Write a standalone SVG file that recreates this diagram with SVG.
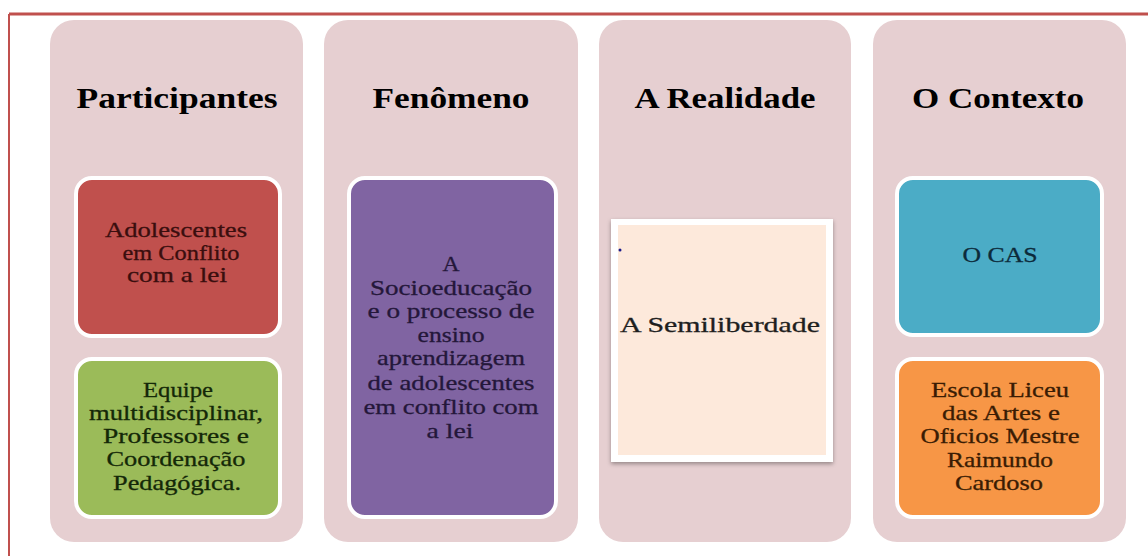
<svg xmlns="http://www.w3.org/2000/svg" width="1148" height="556" viewBox="0 0 1148 556">
<defs>
<style>
.col{fill:#e6cfd1;}
.box{stroke:#ffffff;stroke-width:4;}
.ttl{font-family:"Liberation Serif",serif;font-weight:bold;font-size:30px;fill:#000;text-anchor:middle;}
.txt{font-family:"Liberation Serif",serif;font-size:21px;text-anchor:middle;stroke-width:0.3;}
</style>
<filter id="sh" x="-10%" y="-10%" width="120%" height="125%">
<feDropShadow dx="0" dy="2" stdDeviation="2" flood-color="#000" flood-opacity="0.35"/>
</filter>
</defs>
<rect x="0" y="0" width="1148" height="556" fill="#ffffff"/>
<g id="frame">
<line x1="9" y1="14" x2="1148" y2="14" stroke="#c0504d" stroke-width="3"/>
<line x1="9" y1="14" x2="9" y2="556" stroke="#c0504d" stroke-width="2"/>
</g>
<g id="participantes">
<rect class="col" x="50" y="20" width="253" height="522" rx="24"/>
<text class="ttl" x="177" y="108" textLength="201" lengthAdjust="spacingAndGlyphs">Participantes</text>
<g id="adolescentes">
<rect class="box" x="76" y="178" width="204" height="158" rx="16" fill="#c0504d"/>
<g class="txt" fill="#3a0e0e" stroke="#3a0e0e">
<text x="176" y="237" textLength="142" lengthAdjust="spacingAndGlyphs">Adolescentes</text>
<text x="181" y="260" textLength="117" lengthAdjust="spacingAndGlyphs">em Conflito</text>
<text x="177" y="282" textLength="100" lengthAdjust="spacingAndGlyphs">com a lei</text>
</g>
</g>
<g id="equipe">
<rect class="box" x="76" y="359" width="204" height="158" rx="16" fill="#9bbb59"/>
<g class="txt" fill="#142808" stroke="#142808">
<text x="178" y="397" textLength="70" lengthAdjust="spacingAndGlyphs">Equipe</text>
<text x="176" y="420" textLength="174" lengthAdjust="spacingAndGlyphs">multidisciplinar,</text>
<text x="176" y="443" textLength="146" lengthAdjust="spacingAndGlyphs">Professores e</text>
<text x="176" y="466" textLength="139" lengthAdjust="spacingAndGlyphs">Coordenação</text>
<text x="177" y="490" textLength="128" lengthAdjust="spacingAndGlyphs">Pedagógica.</text>
</g>
</g>
</g>
<g id="fenomeno">
<rect class="col" x="324" y="20" width="254" height="522" rx="24"/>
<text class="ttl" x="451" y="108" textLength="157" lengthAdjust="spacingAndGlyphs">Fenômeno</text>
<g id="socioeducacao">
<rect class="box" x="349" y="178" width="207" height="339" rx="16" fill="#8064a2"/>
<g class="txt" fill="#24173a" stroke="#24173a">
<text x="451" y="271" textLength="17" lengthAdjust="spacingAndGlyphs">A</text>
<text x="451" y="295" textLength="162" lengthAdjust="spacingAndGlyphs">Socioeducação</text>
<text x="451" y="318" textLength="167" lengthAdjust="spacingAndGlyphs">e o processo de</text>
<text x="451" y="342" textLength="67" lengthAdjust="spacingAndGlyphs">ensino</text>
<text x="451" y="365" textLength="148" lengthAdjust="spacingAndGlyphs">aprendizagem</text>
<text x="451" y="390" textLength="167" lengthAdjust="spacingAndGlyphs">de adolescentes</text>
<text x="451" y="414" textLength="175" lengthAdjust="spacingAndGlyphs">em conflito com</text>
<text x="450" y="438" textLength="47" lengthAdjust="spacingAndGlyphs">a lei</text>
</g>
</g>
</g>
<g id="realidade">
<rect class="col" x="599" y="20" width="252" height="522" rx="24"/>
<text class="ttl" x="725" y="108" textLength="181" lengthAdjust="spacingAndGlyphs">A Realidade</text>
<g id="semiliberdade">
<rect x="611" y="219" width="222" height="243" fill="#ffffff" filter="url(#sh)"/>
<rect x="618" y="225" width="208" height="230" fill="#fde9db"/>
<circle cx="620" cy="250" r="1.5" fill="#1a1a8a"/>
<text class="txt" x="720" y="332" fill="#1e1e1e" stroke="#1e1e1e" font-size="23" textLength="200" lengthAdjust="spacingAndGlyphs">A Semiliberdade</text>
</g>
</g>
<g id="contexto">
<rect class="col" x="873" y="20" width="253" height="522" rx="24"/>
<text class="ttl" x="998" y="108" textLength="172" lengthAdjust="spacingAndGlyphs">O Contexto</text>
<g id="cas">
<rect class="box" x="897" y="178" width="205" height="157" rx="16" fill="#4bacc6"/>
<text class="txt" x="1000" y="262" fill="#0c2a3a" stroke="#0c2a3a" textLength="75" lengthAdjust="spacingAndGlyphs">O CAS</text>
</g>
<g id="escola">
<rect class="box" x="897" y="359" width="205" height="158" rx="16" fill="#f79646"/>
<g class="txt" fill="#3a1c04" stroke="#3a1c04">
<text x="1000" y="397" textLength="138" lengthAdjust="spacingAndGlyphs">Escola Liceu</text>
<text x="1001" y="420" textLength="118" lengthAdjust="spacingAndGlyphs">das Artes e</text>
<text x="1000" y="443" textLength="159" lengthAdjust="spacingAndGlyphs">Oficios Mestre</text>
<text x="1000" y="467" textLength="106" lengthAdjust="spacingAndGlyphs">Raimundo</text>
<text x="999" y="490" textLength="88" lengthAdjust="spacingAndGlyphs">Cardoso</text>
</g>
</g>
</g>
<g id="connectors"></g>
</svg>
